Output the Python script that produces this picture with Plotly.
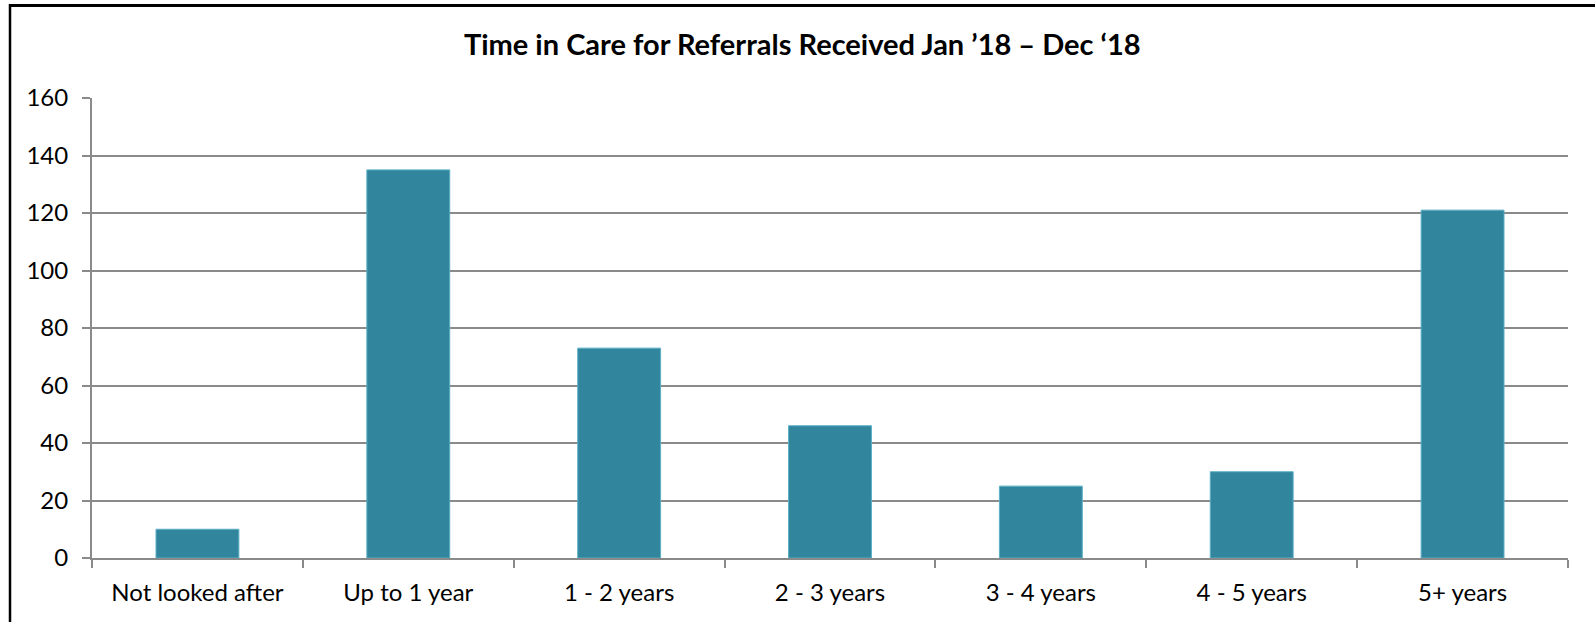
import plotly.graph_objects as go

categories = ["Not looked after", "Up to 1 year", "1 - 2 years", "2 - 3 years",
              "3 - 4 years", "4 - 5 years", "5+ years"]
values = [10, 135, 73, 46, 25, 30, 121]
y_ticks = [0, 20, 40, 60, 80, 100, 120, 140, 160]
title_text = "Time in Care for Referrals Received Jan \u201918 \u2013 Dec \u201818"

W, H = 1595, 622
L, R, T, B = 92, 27, 98, 64
pw, ph = W - L - R, H - T - B

def px_x(p):
    return (p - L) / pw

def px_y(p):
    return (H - B - p) / ph

GRID = "#8a8a8a"
FONT = "Lato, Open Sans, sans-serif"

fig = go.Figure(go.Bar(
    x=categories, y=values,
    marker=dict(color="#31859C", line=dict(color="#5AAFC6", width=1)),
))

fig.update_layout(
    width=W, height=H,
    margin=dict(l=L, r=R, t=T, b=B, autoexpand=False),
    paper_bgcolor="white", plot_bgcolor="white",
    bargap=0.607,
    showlegend=False,
    title=dict(text="<b>" + title_text + "</b>", x=0.503, xref="container",
               y=1 - 45 / H, yref="container", xanchor="center", yanchor="middle",
               font=dict(family=FONT, size=29, color="black")),
    font=dict(family=FONT, color="black"),
)

fig.update_xaxes(
    showline=True, linecolor=GRID, linewidth=2,
    ticks="outside", tickson="boundaries", ticklen=8, tickwidth=2, tickcolor=GRID,
    tickfont=dict(family=FONT, size=24, color="black"),
    ticklabelstandoff=12,
    showgrid=False,
)
fig.update_yaxes(
    range=[0, 160], tickvals=y_ticks, ticktext=[str(v) for v in y_ticks],
    showline=True, linecolor=GRID, linewidth=2,
    ticks="outside", ticklen=8, tickwidth=2, tickcolor=GRID,
    showgrid=True, gridcolor=GRID, gridwidth=2, zeroline=False,
    tickfont=dict(family=FONT, size=24, color="black"),
    ticklabelstandoff=9,
)

# outer chart frame (left and top edges visible in the reference)
fig.add_shape(type="line", xref="paper", yref="paper",
              x0=px_x(10), x1=px_x(10), y0=px_y(640), y1=px_y(4),
              line=dict(color="black", width=2.5))
fig.add_shape(type="line", xref="paper", yref="paper",
              x0=px_x(9), x1=px_x(1610), y0=px_y(5.5), y1=px_y(5.5),
              line=dict(color="black", width=3))

fig.write_html("out.html", config={"displayModeBar": False},
               post_script="document.body.style.margin='0px';")
